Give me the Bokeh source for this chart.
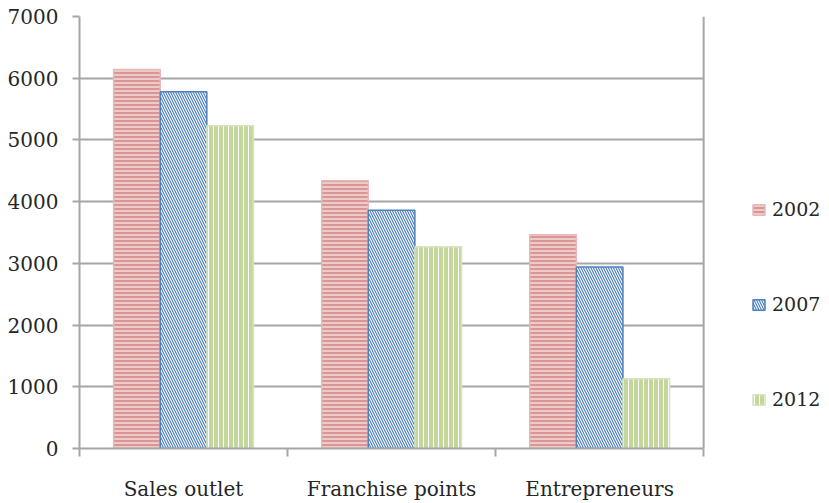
from bokeh.plotting import figure
from bokeh.models import ColumnDataSource, FixedTicker, Legend, LegendItem, Range1d, Span
from bokeh.embed import file_html
from bokeh.resources import INLINE

# Chart data
categories = ["Sales outlet", "Franchise points", "Entrepreneurs"]
years = ["2002", "2007", "2012"]
values_2002 = [6140, 4340, 3465]
values_2007 = [5780, 3860, 2940]
values_2012 = [5230, 3270, 1130]
y_ticks = [0, 1000, 2000, 3000, 4000, 5000, 6000, 7000]

series = [values_2002, values_2007, values_2012]
n_cat = len(categories)

# Per-series bar styling: fill, hatch and outline
styles = [
    dict(fill_color="#d99694", hatch_pattern="horizontal_line", hatch_color="white",
         hatch_scale=4, hatch_weight=1.0, line_color="#e6b9b8"),
    dict(fill_color="white", hatch_pattern="left_diagonal_line", hatch_color="#4f81bd",
         hatch_scale=5, hatch_weight=1.2, line_color="#4f81bd"),
    dict(fill_color="#c3d69b", hatch_pattern="vertical_line", hatch_color="white",
         hatch_scale=5, hatch_weight=1.0, line_color="#d7e4bd"),
]

FONT = "DejaVu Serif"
GRAY = "#a6a6a6"
TEXT = "#262626"

# The frame runs on past the last category to leave room for the legend;
# the plot box itself is closed off at the last category boundary.
p = figure(width=829, height=503, output_backend="svg", toolbar_location=None,
           x_range=Range1d(0, 3.6), y_range=Range1d(0, 7000),
           min_border_left=79, min_border_right=1, min_border_top=16,
           min_border_bottom=48)

bar_w = 0.224
offsets = [-bar_w, 0.0, bar_w]
items = []
for year, vals, off, st in zip(years, series, offsets, styles):
    src = ColumnDataSource(dict(x=[i + 0.5 + off for i in range(n_cat)], top=vals))
    r = p.vbar(x="x", top="top", bottom=0, width=bar_w, source=src, line_width=1.5, **st)
    items.append(LegendItem(label=year, renderers=[r]))

# Frame and grid
p.outline_line_color = None
p.background_fill_color = "white"
p.border_fill_color = "white"
p.xgrid.grid_line_color = None
p.ygrid.grid_line_color = GRAY
p.ygrid.grid_line_width = 2
p.ygrid.cross_bounds = (0, n_cat)
p.add_layout(Span(location=n_cat, dimension="height", line_color=GRAY, line_width=2))

# Y axis
p.yaxis.ticker = FixedTicker(ticks=y_ticks)
p.yaxis.axis_line_color = GRAY
p.yaxis.axis_line_width = 2
p.yaxis.major_tick_line_color = GRAY
p.yaxis.major_tick_line_width = 2
p.yaxis.major_tick_out = 7
p.yaxis.major_tick_in = 0
p.yaxis.minor_tick_line_color = None
p.yaxis.major_label_standoff = 14
p.yaxis.major_label_text_font = FONT
p.yaxis.major_label_text_font_size = "20px"
p.yaxis.major_label_text_color = TEXT

# X axis: labels at category centres, tick marks at category boundaries
p.xaxis.bounds = (0, n_cat)
p.xaxis.ticker = FixedTicker(ticks=[i + 0.5 for i in range(n_cat)],
                             minor_ticks=list(range(n_cat + 1)))
p.xaxis.major_label_overrides = {i + 0.5: c for i, c in enumerate(categories)}
p.xaxis.axis_line_color = GRAY
p.xaxis.axis_line_width = 2
p.xaxis.major_tick_line_color = None
p.xaxis.major_tick_out = 0
p.xaxis.major_tick_in = 0
p.xaxis.minor_tick_line_color = GRAY
p.xaxis.minor_tick_line_width = 2
p.xaxis.minor_tick_out = 8
p.xaxis.minor_tick_in = 0
p.xaxis.major_label_standoff = 20
p.xaxis.major_label_text_font = FONT
p.xaxis.major_label_text_font_size = "20px"
p.xaxis.major_label_text_color = TEXT

legend = Legend(items=items, location=(672, 38), orientation="vertical",
                glyph_width=15, glyph_height=13, label_height=22,
                spacing=73, padding=0, margin=0, label_standoff=6,
                label_text_font=FONT, label_text_font_size="19px",
                label_text_color=TEXT, border_line_color=None,
                background_fill_alpha=0)
p.add_layout(legend, "center")

open("out.html", "w").write(file_html(p, INLINE))
